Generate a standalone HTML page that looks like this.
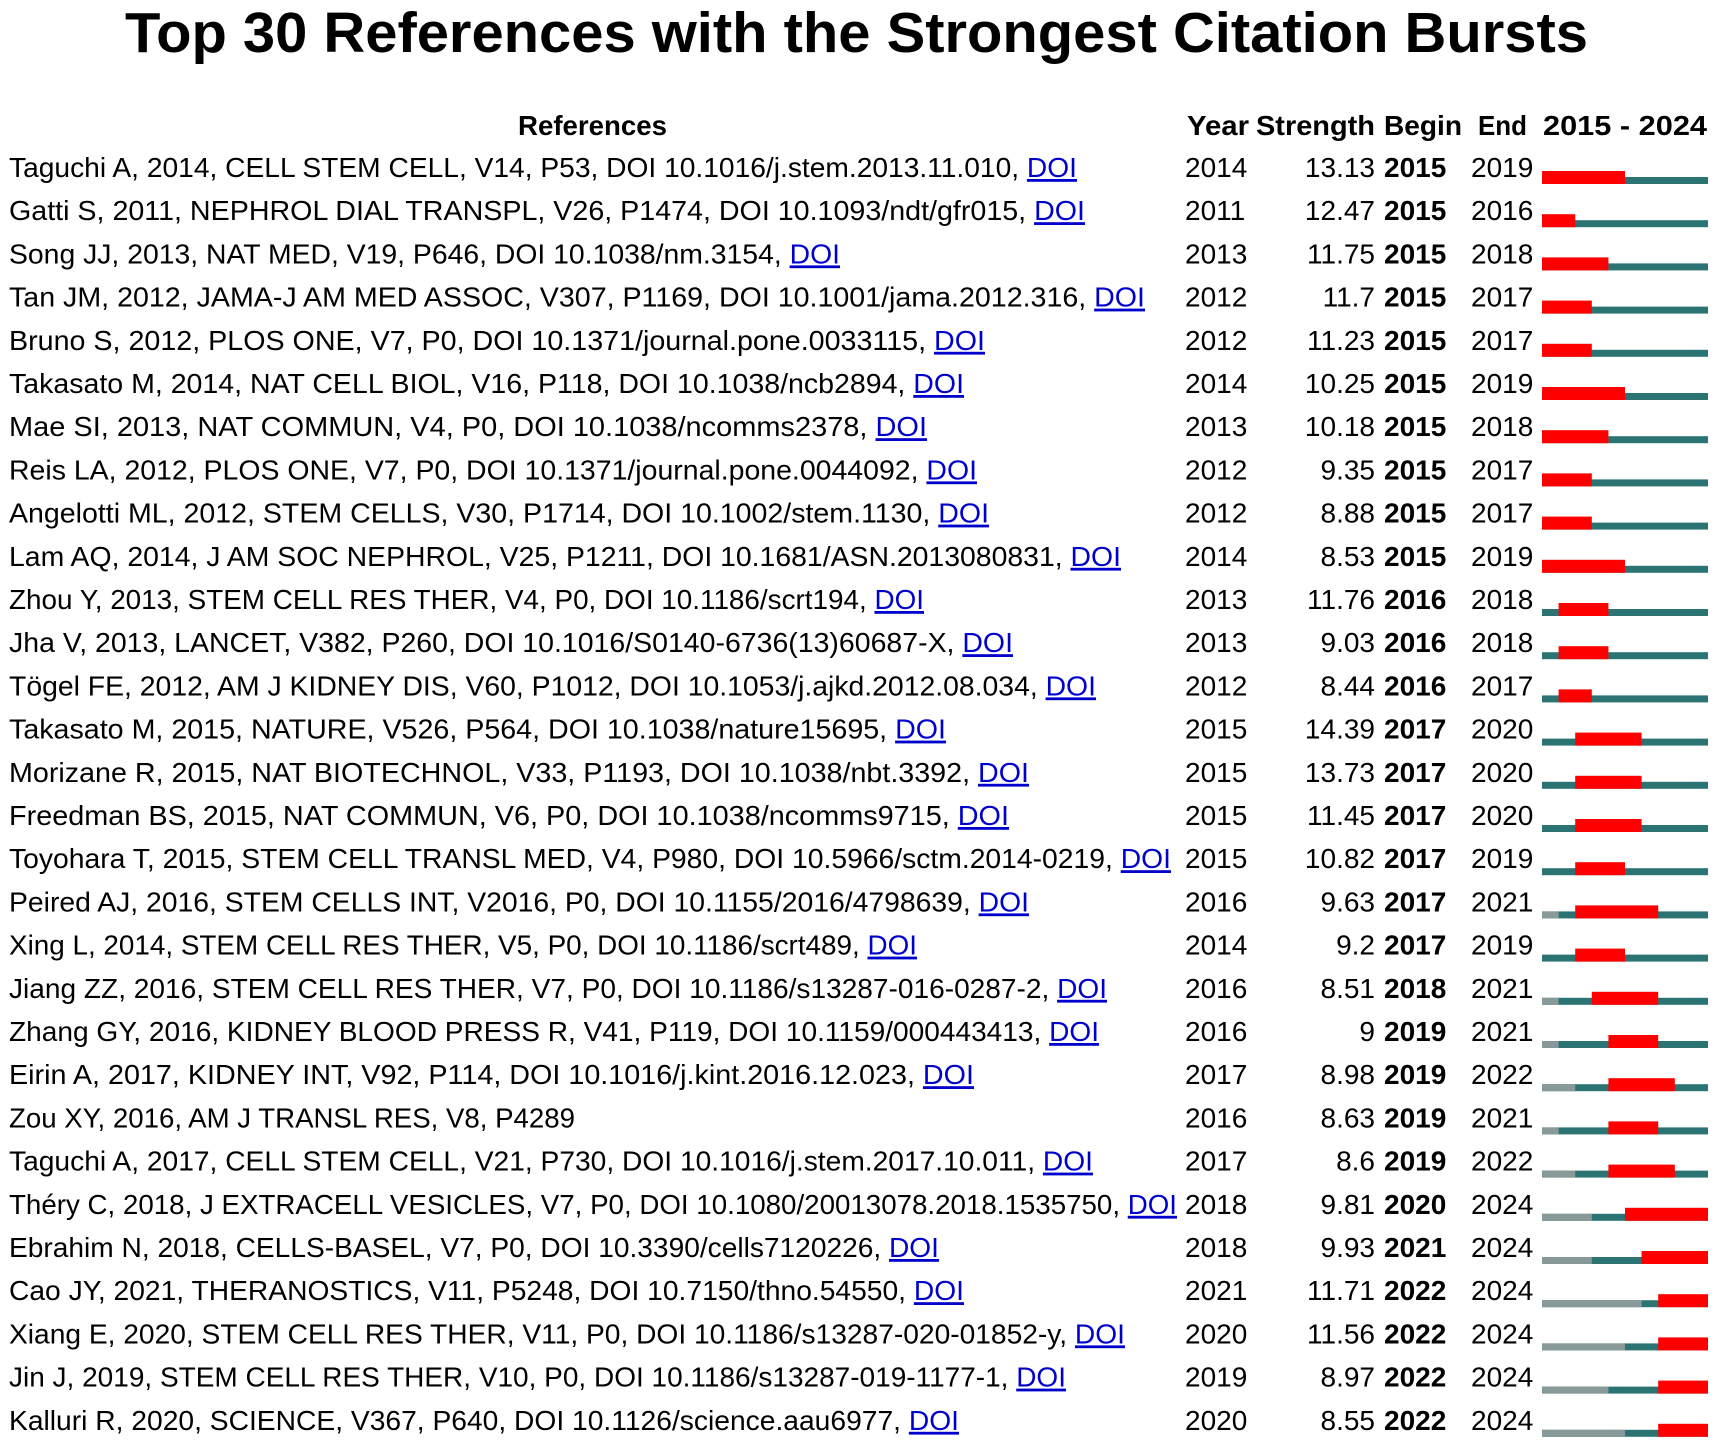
<!DOCTYPE html>
<html><head><meta charset="utf-8"><style>
html,body{margin:0;padding:0;background:#fff;}
svg{display:block;}
text{font-family:"Liberation Sans",sans-serif;fill:#000;}
.r{font-size:28px;}
.b{font-size:28px;font-weight:bold;}
.d{fill:#0000cc;text-decoration:underline;}
</style></head><body>
<svg width="1715" height="1444" viewBox="0 0 1715 1444" xmlns="http://www.w3.org/2000/svg">
<text x="125" y="52" font-size="57" font-weight="bold" textLength="1463" lengthAdjust="spacingAndGlyphs">Top 30 References with the Strongest Citation Bursts</text>
<g class="b">
<text class="b" x="518" y="135" textLength="149" lengthAdjust="spacingAndGlyphs">References</text>
<text class="b" x="1187" y="135" textLength="62" lengthAdjust="spacingAndGlyphs">Year</text>
<text class="b" x="1256" y="135" textLength="119" lengthAdjust="spacingAndGlyphs">Strength</text>
<text class="b" x="1384" y="135" textLength="78" lengthAdjust="spacingAndGlyphs">Begin</text>
<text class="b" x="1478" y="135" textLength="49" lengthAdjust="spacingAndGlyphs">End</text>
<text class="b" x="1543" y="135" textLength="164" lengthAdjust="spacingAndGlyphs">2015 - 2024</text>
</g>
<g class="r">
<text class="r" x="9" y="177" textLength="1068" lengthAdjust="spacingAndGlyphs">Taguchi A, 2014, CELL STEM CELL, V14, P53, DOI 10.1016/j.stem.2013.11.010, <tspan class="d">DOI</tspan></text>
<text class="r" x="9" y="220.2" textLength="1076" lengthAdjust="spacingAndGlyphs">Gatti S, 2011, NEPHROL DIAL TRANSPL, V26, P1474, DOI 10.1093/ndt/gfr015, <tspan class="d">DOI</tspan></text>
<text class="r" x="9" y="263.4" textLength="831" lengthAdjust="spacingAndGlyphs">Song JJ, 2013, NAT MED, V19, P646, DOI 10.1038/nm.3154, <tspan class="d">DOI</tspan></text>
<text class="r" x="9" y="306.6" textLength="1136" lengthAdjust="spacingAndGlyphs">Tan JM, 2012, JAMA-J AM MED ASSOC, V307, P1169, DOI 10.1001/jama.2012.316, <tspan class="d">DOI</tspan></text>
<text class="r" x="9" y="349.8" textLength="976" lengthAdjust="spacingAndGlyphs">Bruno S, 2012, PLOS ONE, V7, P0, DOI 10.1371/journal.pone.0033115, <tspan class="d">DOI</tspan></text>
<text class="r" x="9" y="393" textLength="955" lengthAdjust="spacingAndGlyphs">Takasato M, 2014, NAT CELL BIOL, V16, P118, DOI 10.1038/ncb2894, <tspan class="d">DOI</tspan></text>
<text class="r" x="9" y="436.2" textLength="918" lengthAdjust="spacingAndGlyphs">Mae SI, 2013, NAT COMMUN, V4, P0, DOI 10.1038/ncomms2378, <tspan class="d">DOI</tspan></text>
<text class="r" x="9" y="479.4" textLength="968" lengthAdjust="spacingAndGlyphs">Reis LA, 2012, PLOS ONE, V7, P0, DOI 10.1371/journal.pone.0044092, <tspan class="d">DOI</tspan></text>
<text class="r" x="9" y="522.6" textLength="980" lengthAdjust="spacingAndGlyphs">Angelotti ML, 2012, STEM CELLS, V30, P1714, DOI 10.1002/stem.1130, <tspan class="d">DOI</tspan></text>
<text class="r" x="9" y="565.8" textLength="1112" lengthAdjust="spacingAndGlyphs">Lam AQ, 2014, J AM SOC NEPHROL, V25, P1211, DOI 10.1681/ASN.2013080831, <tspan class="d">DOI</tspan></text>
<text class="r" x="9" y="609" textLength="915" lengthAdjust="spacingAndGlyphs">Zhou Y, 2013, STEM CELL RES THER, V4, P0, DOI 10.1186/scrt194, <tspan class="d">DOI</tspan></text>
<text class="r" x="9" y="652.2" textLength="1004" lengthAdjust="spacingAndGlyphs">Jha V, 2013, LANCET, V382, P260, DOI 10.1016/S0140-6736(13)60687-X, <tspan class="d">DOI</tspan></text>
<text class="r" x="9" y="695.4" textLength="1087" lengthAdjust="spacingAndGlyphs">Tögel FE, 2012, AM J KIDNEY DIS, V60, P1012, DOI 10.1053/j.ajkd.2012.08.034, <tspan class="d">DOI</tspan></text>
<text class="r" x="9" y="738.6" textLength="937" lengthAdjust="spacingAndGlyphs">Takasato M, 2015, NATURE, V526, P564, DOI 10.1038/nature15695, <tspan class="d">DOI</tspan></text>
<text class="r" x="9" y="781.8" textLength="1020" lengthAdjust="spacingAndGlyphs">Morizane R, 2015, NAT BIOTECHNOL, V33, P1193, DOI 10.1038/nbt.3392, <tspan class="d">DOI</tspan></text>
<text class="r" x="9" y="825" textLength="1000" lengthAdjust="spacingAndGlyphs">Freedman BS, 2015, NAT COMMUN, V6, P0, DOI 10.1038/ncomms9715, <tspan class="d">DOI</tspan></text>
<text class="r" x="9" y="868.2" textLength="1162" lengthAdjust="spacingAndGlyphs">Toyohara T, 2015, STEM CELL TRANSL MED, V4, P980, DOI 10.5966/sctm.2014-0219, <tspan class="d">DOI</tspan></text>
<text class="r" x="9" y="911.4" textLength="1020" lengthAdjust="spacingAndGlyphs">Peired AJ, 2016, STEM CELLS INT, V2016, P0, DOI 10.1155/2016/4798639, <tspan class="d">DOI</tspan></text>
<text class="r" x="9" y="954.6" textLength="908" lengthAdjust="spacingAndGlyphs">Xing L, 2014, STEM CELL RES THER, V5, P0, DOI 10.1186/scrt489, <tspan class="d">DOI</tspan></text>
<text class="r" x="9" y="997.8" textLength="1098" lengthAdjust="spacingAndGlyphs">Jiang ZZ, 2016, STEM CELL RES THER, V7, P0, DOI 10.1186/s13287-016-0287-2, <tspan class="d">DOI</tspan></text>
<text class="r" x="9" y="1041" textLength="1090" lengthAdjust="spacingAndGlyphs">Zhang GY, 2016, KIDNEY BLOOD PRESS R, V41, P119, DOI 10.1159/000443413, <tspan class="d">DOI</tspan></text>
<text class="r" x="9" y="1084.2" textLength="965" lengthAdjust="spacingAndGlyphs">Eirin A, 2017, KIDNEY INT, V92, P114, DOI 10.1016/j.kint.2016.12.023, <tspan class="d">DOI</tspan></text>
<text class="r" x="9" y="1127.4" textLength="566" lengthAdjust="spacingAndGlyphs">Zou XY, 2016, AM J TRANSL RES, V8, P4289</text>
<text class="r" x="9" y="1170.6" textLength="1084" lengthAdjust="spacingAndGlyphs">Taguchi A, 2017, CELL STEM CELL, V21, P730, DOI 10.1016/j.stem.2017.10.011, <tspan class="d">DOI</tspan></text>
<text class="r" x="9" y="1213.8" textLength="1168" lengthAdjust="spacingAndGlyphs">Théry C, 2018, J EXTRACELL VESICLES, V7, P0, DOI 10.1080/20013078.2018.1535750, <tspan class="d">DOI</tspan></text>
<text class="r" x="9" y="1257" textLength="930" lengthAdjust="spacingAndGlyphs">Ebrahim N, 2018, CELLS-BASEL, V7, P0, DOI 10.3390/cells7120226, <tspan class="d">DOI</tspan></text>
<text class="r" x="9" y="1300.2" textLength="955" lengthAdjust="spacingAndGlyphs">Cao JY, 2021, THERANOSTICS, V11, P5248, DOI 10.7150/thno.54550, <tspan class="d">DOI</tspan></text>
<text class="r" x="9" y="1343.4" textLength="1116" lengthAdjust="spacingAndGlyphs">Xiang E, 2020, STEM CELL RES THER, V11, P0, DOI 10.1186/s13287-020-01852-y, <tspan class="d">DOI</tspan></text>
<text class="r" x="9" y="1386.6" textLength="1057" lengthAdjust="spacingAndGlyphs">Jin J, 2019, STEM CELL RES THER, V10, P0, DOI 10.1186/s13287-019-1177-1, <tspan class="d">DOI</tspan></text>
<text class="r" x="9" y="1429.8" textLength="950" lengthAdjust="spacingAndGlyphs">Kalluri R, 2020, SCIENCE, V367, P640, DOI 10.1126/science.aau6977, <tspan class="d">DOI</tspan></text>
</g>
<g font-size="28">
<g text-anchor="start">
<text x="1185" y="177">2014</text><text x="1185" y="220.2">2011</text><text x="1185" y="263.4">2013</text><text x="1185" y="306.6">2012</text><text x="1185" y="349.8">2012</text><text x="1185" y="393">2014</text><text x="1185" y="436.2">2013</text><text x="1185" y="479.4">2012</text><text x="1185" y="522.6">2012</text><text x="1185" y="565.8">2014</text><text x="1185" y="609">2013</text><text x="1185" y="652.2">2013</text><text x="1185" y="695.4">2012</text><text x="1185" y="738.6">2015</text><text x="1185" y="781.8">2015</text><text x="1185" y="825">2015</text><text x="1185" y="868.2">2015</text><text x="1185" y="911.4">2016</text><text x="1185" y="954.6">2014</text><text x="1185" y="997.8">2016</text><text x="1185" y="1041">2016</text><text x="1185" y="1084.2">2017</text><text x="1185" y="1127.4">2016</text><text x="1185" y="1170.6">2017</text><text x="1185" y="1213.8">2018</text><text x="1185" y="1257">2018</text><text x="1185" y="1300.2">2021</text><text x="1185" y="1343.4">2020</text><text x="1185" y="1386.6">2019</text><text x="1185" y="1429.8">2020</text>
</g>
<g text-anchor="end">
<text x="1375" y="177">13.13</text><text x="1375" y="220.2">12.47</text><text x="1375" y="263.4">11.75</text><text x="1375" y="306.6">11.7</text><text x="1375" y="349.8">11.23</text><text x="1375" y="393">10.25</text><text x="1375" y="436.2">10.18</text><text x="1375" y="479.4">9.35</text><text x="1375" y="522.6">8.88</text><text x="1375" y="565.8">8.53</text><text x="1375" y="609">11.76</text><text x="1375" y="652.2">9.03</text><text x="1375" y="695.4">8.44</text><text x="1375" y="738.6">14.39</text><text x="1375" y="781.8">13.73</text><text x="1375" y="825">11.45</text><text x="1375" y="868.2">10.82</text><text x="1375" y="911.4">9.63</text><text x="1375" y="954.6">9.2</text><text x="1375" y="997.8">8.51</text><text x="1375" y="1041">9</text><text x="1375" y="1084.2">8.98</text><text x="1375" y="1127.4">8.63</text><text x="1375" y="1170.6">8.6</text><text x="1375" y="1213.8">9.81</text><text x="1375" y="1257">9.93</text><text x="1375" y="1300.2">11.71</text><text x="1375" y="1343.4">11.56</text><text x="1375" y="1386.6">8.97</text><text x="1375" y="1429.8">8.55</text>
</g>
<g font-weight="bold">
<text x="1384" y="177">2015</text><text x="1384" y="220.2">2015</text><text x="1384" y="263.4">2015</text><text x="1384" y="306.6">2015</text><text x="1384" y="349.8">2015</text><text x="1384" y="393">2015</text><text x="1384" y="436.2">2015</text><text x="1384" y="479.4">2015</text><text x="1384" y="522.6">2015</text><text x="1384" y="565.8">2015</text><text x="1384" y="609">2016</text><text x="1384" y="652.2">2016</text><text x="1384" y="695.4">2016</text><text x="1384" y="738.6">2017</text><text x="1384" y="781.8">2017</text><text x="1384" y="825">2017</text><text x="1384" y="868.2">2017</text><text x="1384" y="911.4">2017</text><text x="1384" y="954.6">2017</text><text x="1384" y="997.8">2018</text><text x="1384" y="1041">2019</text><text x="1384" y="1084.2">2019</text><text x="1384" y="1127.4">2019</text><text x="1384" y="1170.6">2019</text><text x="1384" y="1213.8">2020</text><text x="1384" y="1257">2021</text><text x="1384" y="1300.2">2022</text><text x="1384" y="1343.4">2022</text><text x="1384" y="1386.6">2022</text><text x="1384" y="1429.8">2022</text>
</g>
<g>
<text x="1471" y="177">2019</text><text x="1471" y="220.2">2016</text><text x="1471" y="263.4">2018</text><text x="1471" y="306.6">2017</text><text x="1471" y="349.8">2017</text><text x="1471" y="393">2019</text><text x="1471" y="436.2">2018</text><text x="1471" y="479.4">2017</text><text x="1471" y="522.6">2017</text><text x="1471" y="565.8">2019</text><text x="1471" y="609">2018</text><text x="1471" y="652.2">2018</text><text x="1471" y="695.4">2017</text><text x="1471" y="738.6">2020</text><text x="1471" y="781.8">2020</text><text x="1471" y="825">2020</text><text x="1471" y="868.2">2019</text><text x="1471" y="911.4">2021</text><text x="1471" y="954.6">2019</text><text x="1471" y="997.8">2021</text><text x="1471" y="1041">2021</text><text x="1471" y="1084.2">2022</text><text x="1471" y="1127.4">2021</text><text x="1471" y="1170.6">2022</text><text x="1471" y="1213.8">2024</text><text x="1471" y="1257">2024</text><text x="1471" y="1300.2">2024</text><text x="1471" y="1343.4">2024</text><text x="1471" y="1386.6">2024</text><text x="1471" y="1429.8">2024</text>
</g>
</g>
<!-- bars -->
<g fill="#2c7474">
<rect x="1542" y="177" width="166" height="7"/><rect x="1542" y="220.2" width="166" height="7"/><rect x="1542" y="263.4" width="166" height="7"/><rect x="1542" y="306.6" width="166" height="7"/><rect x="1542" y="349.8" width="166" height="7"/><rect x="1542" y="393" width="166" height="7"/><rect x="1542" y="436.2" width="166" height="7"/><rect x="1542" y="479.4" width="166" height="7"/><rect x="1542" y="522.6" width="166" height="7"/><rect x="1542" y="565.8" width="166" height="7"/><rect x="1542" y="609" width="166" height="7"/><rect x="1542" y="652.2" width="166" height="7"/><rect x="1542" y="695.4" width="166" height="7"/><rect x="1542" y="738.6" width="166" height="7"/><rect x="1542" y="781.8" width="166" height="7"/><rect x="1542" y="825" width="166" height="7"/><rect x="1542" y="868.2" width="166" height="7"/><rect x="1542" y="911.4" width="166" height="7"/><rect x="1542" y="954.6" width="166" height="7"/><rect x="1542" y="997.8" width="166" height="7"/><rect x="1542" y="1041" width="166" height="7"/><rect x="1542" y="1084.2" width="166" height="7"/><rect x="1542" y="1127.4" width="166" height="7"/><rect x="1542" y="1170.6" width="166" height="7"/><rect x="1542" y="1213.8" width="166" height="7"/><rect x="1542" y="1257" width="166" height="7"/><rect x="1542" y="1300.2" width="166" height="7"/><rect x="1542" y="1343.4" width="166" height="7"/><rect x="1542" y="1386.6" width="166" height="7"/><rect x="1542" y="1429.8" width="166" height="7"/>
</g>
<g fill="#879a99">
<rect x="1542" y="911.4" width="16.6" height="7"/><rect x="1542" y="997.8" width="16.6" height="7"/><rect x="1542" y="1041" width="16.6" height="7"/><rect x="1542" y="1084.2" width="33.2" height="7"/><rect x="1542" y="1127.4" width="16.6" height="7"/><rect x="1542" y="1170.6" width="33.2" height="7"/><rect x="1542" y="1213.8" width="49.8" height="7"/><rect x="1542" y="1257" width="49.8" height="7"/><rect x="1542" y="1300.2" width="99.6" height="7"/><rect x="1542" y="1343.4" width="83" height="7"/><rect x="1542" y="1386.6" width="66.4" height="7"/><rect x="1542" y="1429.8" width="83" height="7"/>
</g>
<g fill="#ff0000">
<rect x="1542" y="171" width="83" height="13"/>
<rect x="1542" y="214.2" width="33.2" height="13"/>
<rect x="1542" y="257.4" width="66.4" height="13"/>
<rect x="1542" y="300.6" width="49.8" height="13"/>
<rect x="1542" y="343.8" width="49.8" height="13"/>
<rect x="1542" y="387" width="83" height="13"/>
<rect x="1542" y="430.2" width="66.4" height="13"/>
<rect x="1542" y="473.4" width="49.8" height="13"/>
<rect x="1542" y="516.6" width="49.8" height="13"/>
<rect x="1542" y="559.8" width="83" height="13"/>
<rect x="1558.6" y="603" width="49.8" height="13"/>
<rect x="1558.6" y="646.2" width="49.8" height="13"/>
<rect x="1558.6" y="689.4" width="33.2" height="13"/>
<rect x="1575.2" y="732.6" width="66.4" height="13"/>
<rect x="1575.2" y="775.8" width="66.4" height="13"/>
<rect x="1575.2" y="819" width="66.4" height="13"/>
<rect x="1575.2" y="862.2" width="49.8" height="13"/>
<rect x="1575.2" y="905.4" width="83" height="13"/>
<rect x="1575.2" y="948.6" width="49.8" height="13"/>
<rect x="1591.8" y="991.8" width="66.4" height="13"/>
<rect x="1608.4" y="1035" width="49.8" height="13"/>
<rect x="1608.4" y="1078.2" width="66.4" height="13"/>
<rect x="1608.4" y="1121.4" width="49.8" height="13"/>
<rect x="1608.4" y="1164.6" width="66.4" height="13"/>
<rect x="1625" y="1207.8" width="83" height="13"/>
<rect x="1641.6" y="1251" width="66.4" height="13"/>
<rect x="1658.2" y="1294.2" width="49.8" height="13"/>
<rect x="1658.2" y="1337.4" width="49.8" height="13"/>
<rect x="1658.2" y="1380.6" width="49.8" height="13"/>
<rect x="1658.2" y="1423.8" width="49.8" height="13"/>
</g>
</svg>
</body></html>
